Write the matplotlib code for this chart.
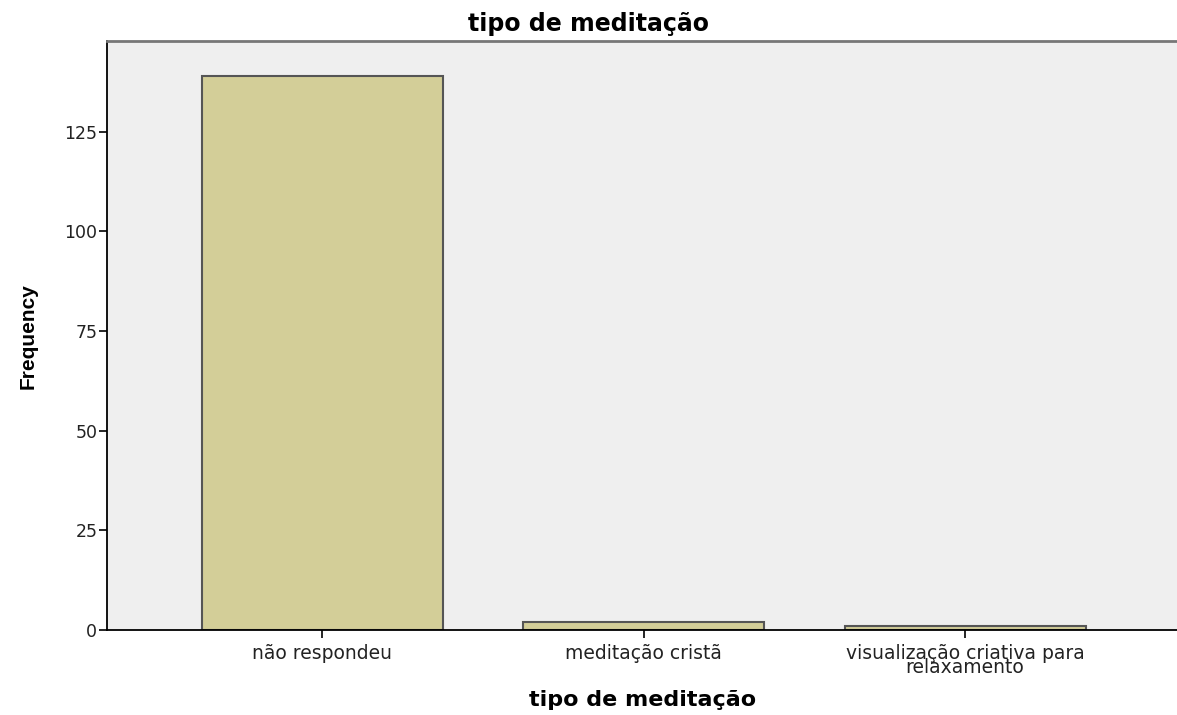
import matplotlib
matplotlib.use('Agg')
import matplotlib.pyplot as plt

# Datos del gráfico
categorias = ['não respondeu', 'meditação cristã',
              'visualização criativa para\nrelaxamento']
frecuencias = [139, 2, 1]
ticks_y = [0, 25, 50, 75, 100, 125]

fig = plt.figure(figsize=(11.77, 7.15), dpi=100)
ax = fig.add_axes([107/1177, 85/715, 1070/1177, 589/715])
ax.set_facecolor('#efefef')

posiciones = list(range(len(categorias)))
ax.bar(posiciones, frecuencias, width=0.75, color='#d3ce98',
       edgecolor='#555555', linewidth=1.5, zorder=2)

ax.set_xlim(-0.669, 2.659)
ax.set_ylim(0, 147.8)
ax.set_yticks(ticks_y)
ax.set_yticklabels([str(t) for t in ticks_y], family='DejaVu Sans',
                   fontsize=12.5)
ax.set_xticks(posiciones)
ax.set_xticklabels(categorias, family='DejaVu Sans', fontsize=13.5,
                   linespacing=0.68)
ax.tick_params(axis='both', direction='out', length=6, width=1.2,
               colors='black', pad=1)
ax.tick_params(axis='x', pad=4)
for lbl in ax.get_xticklabels() + ax.get_yticklabels():
    lbl.set_color('#222222')

for lado in ['left', 'bottom']:
    ax.spines[lado].set_color('black')
    ax.spines[lado].set_linewidth(1.3)
ax.spines['top'].set_color('#777777')
ax.spines['top'].set_linewidth(2)
ax.spines['right'].set_visible(False)

# Títulos
fig.text(588/1177, 1 - 24/715, 'tipo de meditação', ha='center', va='center',
         fontsize=17, fontweight='bold', family='DejaVu Sans')
fig.text(643/1177, 1 - 700/715, 'tipo de meditação', ha='center', va='center',
         fontsize=16, fontweight='bold', family='DejaVu Sans')
fig.text(28/1177, 1 - 336/715, 'Frequency', ha='center', va='center',
         rotation=90, fontsize=15, fontweight='bold',
         family='Liberation Sans')

fig.savefig('out.png', dpi=100)
